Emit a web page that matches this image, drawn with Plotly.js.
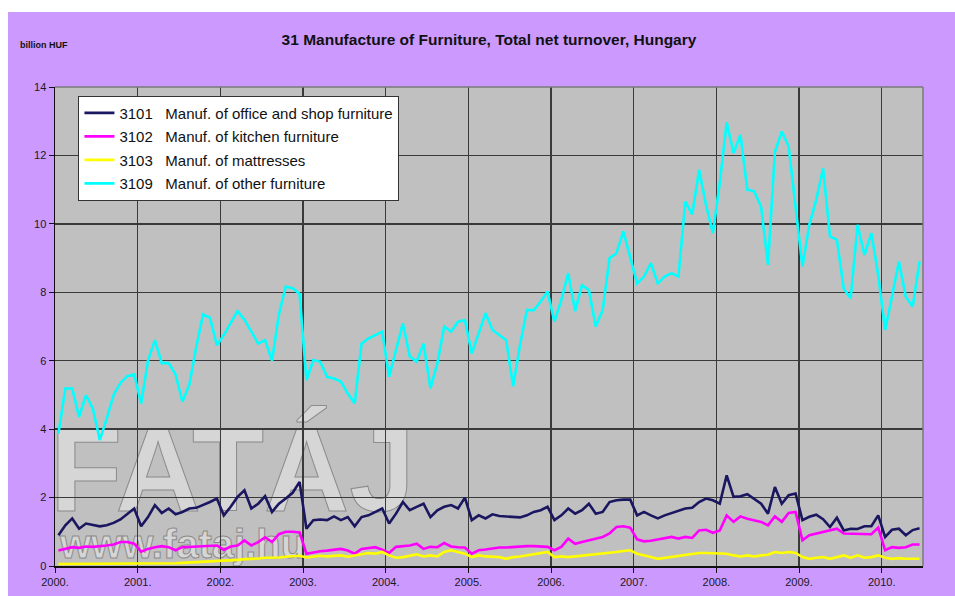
<!DOCTYPE html>
<html>
<head>
<meta charset="utf-8">
<script src="https://cdn.plot.ly/plotly-3.0.1.min.js"></script>
<style>
html,body{margin:0;padding:0;background:#ffffff;}
#chart{position:absolute;left:8px;top:12px;width:947px;height:584px;}
</style>
</head>
<body>
<div id="chart"></div>
<script>
// Tick labels (one per year, placed at category boundaries)
const yearLabels = ['2000.','2001.','2002.','2003.','2004.','2005.','2006.','2007.','2008.','2009.','2010.'];

// Monthly values, Jan 2000 - Jun 2010, billion HUF
const s3101 = [
 0.9,1.19,1.39,1.09,1.24,1.19,1.16,1.19,1.26,1.36,1.51,1.68,
 1.16,1.43,1.78,1.55,1.68,1.51,1.58,1.68,1.7,1.78,1.87,1.97,
 1.48,1.73,2.02,2.21,1.68,1.82,2.04,1.58,1.82,1.97,2.14,2.46,
 1.09,1.34,1.36,1.34,1.45,1.34,1.43,1.16,1.43,1.48,1.58,1.68,
 1.24,1.53,1.87,1.63,1.73,1.82,1.43,1.63,1.73,1.78,1.68,2.0,
 1.34,1.48,1.39,1.51,1.46,1.44,1.44,1.42,1.48,1.58,1.63,1.73,
 1.34,1.48,1.68,1.53,1.63,1.82,1.53,1.58,1.87,1.92,1.94,1.94,
 1.48,1.58,1.48,1.39,1.48,1.55,1.63,1.68,1.7,1.87,1.97,1.92,
 1.82,2.65,2.02,2.04,2.1,1.97,1.82,1.53,2.31,1.82,2.07,2.12,
 1.34,1.44,1.5,1.37,1.14,1.41,1.04,1.09,1.08,1.16,1.16,1.48,
 0.85,1.06,1.09,0.9,1.05,1.1
];
const s3102 = [
 0.45,0.5,0.55,0.53,0.57,0.56,0.57,0.6,0.63,0.7,0.7,0.65,
 0.42,0.5,0.55,0.58,0.55,0.46,0.55,0.56,0.58,0.6,0.6,0.6,
 0.47,0.57,0.6,0.75,0.6,0.7,0.84,0.7,0.93,1.0,1.0,0.98,
 0.36,0.4,0.43,0.45,0.47,0.5,0.45,0.36,0.5,0.53,0.55,0.48,
 0.38,0.56,0.58,0.6,0.65,0.5,0.56,0.55,0.67,0.57,0.55,0.54,
 0.36,0.46,0.48,0.51,0.54,0.54,0.56,0.56,0.58,0.58,0.58,0.56,
 0.46,0.56,0.8,0.65,0.7,0.75,0.8,0.85,0.95,1.14,1.16,1.12,
 0.78,0.72,0.74,0.78,0.8,0.85,0.8,0.85,0.82,1.04,1.06,0.97,
 1.04,1.48,1.29,1.45,1.38,1.34,1.29,1.19,1.45,1.29,1.55,1.58,
 0.75,0.9,0.95,1.0,1.04,1.09,0.95,0.95,0.95,0.93,0.93,1.12,
 0.46,0.55,0.53,0.55,0.63,0.63
];
const s3103 = [
 0.06,0.06,0.06,0.06,0.06,0.06,0.06,0.06,0.06,0.06,0.06,0.06,
 0.06,0.06,0.06,0.06,0.07,0.08,0.09,0.1,0.1,0.12,0.14,0.15,
 0.14,0.16,0.18,0.2,0.2,0.22,0.24,0.24,0.25,0.27,0.28,0.3,
 0.25,0.28,0.3,0.28,0.3,0.31,0.27,0.31,0.36,0.38,0.36,0.41,
 0.31,0.24,0.26,0.31,0.34,0.28,0.31,0.28,0.41,0.46,0.41,0.36,
 0.26,0.31,0.28,0.26,0.26,0.21,0.26,0.28,0.31,0.36,0.38,0.41,
 0.26,0.28,0.26,0.28,0.31,0.31,0.33,0.36,0.38,0.41,0.44,0.46,
 0.36,0.3,0.26,0.21,0.24,0.26,0.28,0.31,0.36,0.38,0.38,0.38,
 0.38,0.36,0.31,0.28,0.31,0.28,0.31,0.33,0.41,0.38,0.41,0.38,
 0.26,0.21,0.24,0.26,0.21,0.26,0.31,0.24,0.31,0.24,0.26,0.31,
 0.24,0.21,0.23,0.21,0.21,0.21
];
const s3109 = [
 3.87,5.19,5.19,4.36,4.99,4.6,3.68,4.3,5.0,5.35,5.55,5.6,
 4.75,6.0,6.6,5.93,5.93,5.6,4.8,5.3,6.4,7.35,7.25,6.45,
 6.75,7.1,7.45,7.2,6.85,6.5,6.6,6.0,7.35,8.17,8.12,7.95,
 5.43,6.02,5.97,5.53,5.48,5.39,5.04,4.75,6.5,6.65,6.75,6.85,
 5.53,6.31,7.09,6.12,5.97,6.5,5.19,5.92,7.0,6.85,7.14,7.19,
 6.21,6.8,7.39,6.9,6.75,6.6,5.25,6.45,7.48,7.48,7.73,8.02,
 7.14,7.78,8.56,7.45,8.21,8.07,7.0,7.48,9.0,9.14,9.78,9.04,
 8.26,8.46,8.85,8.26,8.46,8.56,8.46,10.65,10.28,11.58,10.55,9.73,
 11.2,12.97,12.07,12.6,11.0,10.95,10.5,8.8,12.1,12.7,12.26,10.5,
 8.75,9.97,10.7,11.62,9.63,9.53,8.1,7.82,9.97,9.09,9.73,8.5,
 6.9,7.87,8.9,7.87,7.58,8.9
];
const seriesNames = [
 '3101\u00a0\u00a0\u00a0Manuf. of office and shop furniture',
 '3102\u00a0\u00a0\u00a0Manuf. of kitchen furniture',
 '3103\u00a0\u00a0\u00a0Manuf. of mattresses',
 '3109\u00a0\u00a0\u00a0Manuf. of other furniture'
];
const seriesColors = ['#1a1660', '#ff00ff', '#ffff00', '#00ffff'];
const seriesData = [s3101, s3102, s3103, s3109];

const monthIdx = s3101.map((_, i) => i);
const tickPos = yearLabels.map((_, k) => k * 12 - 0.5);

const traces = seriesData.map((vals, k) => ({
  type: 'scatter', mode: 'lines',
  x: monthIdx, y: vals,
  name: seriesNames[k],
  legendgroup: 'g' + k,
  line: {color: seriesColors[k], width: 2.6},
  hoverinfo: 'skip'
}));

const FONT = '"Liberation Sans", Arial, sans-serif';

const layout = {
  width: 947, height: 584,
  paper_bgcolor: '#cc99ff',
  plot_bgcolor: '#c0c0c0',
  margin: {l: 47, r: 32, t: 75, b: 30},
  font: {family: FONT, size: 11, color: '#1a1a1a'},
  showlegend: true,
  title: {
    text: '<b>31 Manufacture of Furniture, Total net turnover, Hungary</b>',
    font: {family: FONT, size: 15.5, color: '#111'},
    x: 0.5, xref: 'paper', xanchor: 'center',
    y: 0.952, yref: 'container', yanchor: 'middle'
  },
  xaxis: {
    range: [-0.5, s3101.length - 0.5],
    tickmode: 'array', tickvals: tickPos, ticktext: yearLabels,
    showgrid: true, gridcolor: '#3a3a3a', gridwidth: 1.5,
    zeroline: false,
    showline: true, linecolor: '#111', linewidth: 1.5,
    ticks: 'outside', ticklen: 5, tickcolor: '#111',
    tickfont: {family: FONT, size: 11, color: '#1a1a1a'},
    fixedrange: true
  },
  yaxis: {
    range: [0, 14], dtick: 2, tick0: 0,
    showgrid: true, gridcolor: '#3a3a3a', gridwidth: 1.5,
    zeroline: false,
    showline: true, linecolor: '#111', linewidth: 1.5,
    ticks: 'outside', ticklen: 5, tickcolor: '#111',
    tickfont: {family: FONT, size: 11, color: '#1a1a1a'},
    fixedrange: true
  },
  legend: {
    x: 0.027, y: 0.982, xanchor: 'left', yanchor: 'top',
    bgcolor: '#ffffff', bordercolor: '#333', borderwidth: 1,
    font: {family: FONT, size: 15, color: '#111'},
    tracegroupgap: 1, traceorder: 'grouped'
  },
  shapes: [
    {type: 'line', xref: 'paper', yref: 'paper', x0: 0, x1: 1, y0: 1, y1: 1,
     line: {color: '#7a7a7a', width: 1.5}},
    {type: 'line', xref: 'paper', yref: 'paper', x0: 1, x1: 1, y0: 0, y1: 1,
     line: {color: '#7a7a7a', width: 1.5}}
  ],
  annotations: [
    {text: '<b>billion HUF</b>', xref: 'paper', yref: 'paper',
     x: -0.043, y: 1.088, xanchor: 'left', yanchor: 'middle', showarrow: false,
     font: {family: FONT, size: 9, color: '#111'}},
    {text: '<b>FATÁJ</b>', xref: 'paper', yref: 'paper',
     x: 0.205, y: 0.2, xanchor: 'center', yanchor: 'middle', showarrow: false,
     font: {family: FONT, size: 118, color: '#d6d6d6'}},
    {text: '<b>www.fataj.hu</b>', xref: 'paper', yref: 'paper',
     x: 0.146, y: 0.045, xanchor: 'center', yanchor: 'middle', showarrow: false,
     font: {family: FONT, size: 40, color: '#d6d6d6'}}
  ]
};

Plotly.newPlot('chart', traces, layout, {staticPlot: true, displayModeBar: false}).then(function (gd) {
  // put the watermark texts beneath the data lines and give them a thin outline
  var below = gd.querySelector('.layer-below');
  gd.querySelectorAll('.annotation').forEach(function (a) {
    var t = a.textContent;
    if (t === 'FATÁJ' || t === 'www.fataj.hu') {
      var txt = a.querySelector('text');
      if (txt) {
        txt.style.stroke = '#8c8c8c';
        txt.style.strokeWidth = '1px';
      }
      if (below) below.appendChild(a);
    }
  });
});
</script>
</body>
</html>
